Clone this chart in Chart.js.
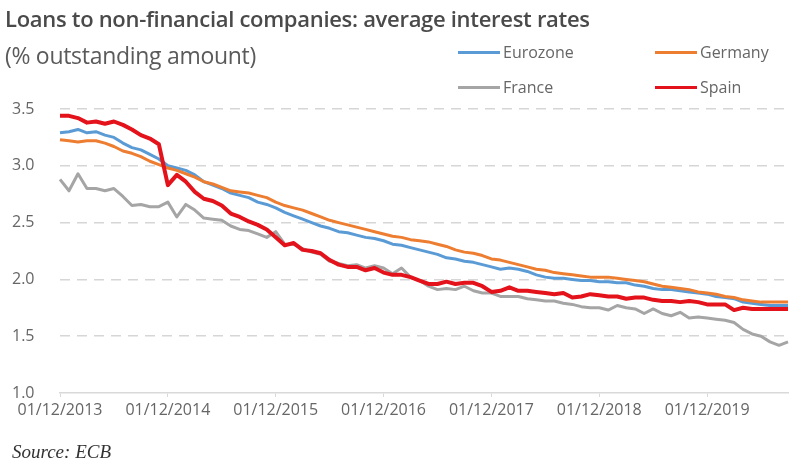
<!DOCTYPE html>
<html>
<head>
<meta charset="utf-8">
<script src="https://cdn.jsdelivr.net/npm/chart.js@4/dist/chart.umd.min.js"></script>
<style>
  html,body{margin:0;padding:0;background:#fff;}
  #wrap{position:relative;width:792px;height:465px;overflow:hidden;}
  canvas{position:absolute;left:0;top:0;}
  .t{position:absolute;white-space:nowrap;font-family:"Open Sans",sans-serif;}
  #title{left:5px;top:4px;font-size:22px;line-height:28px;font-weight:600;color:#4a4a4a;letter-spacing:-0.3px;}
  #subtitle{left:5px;top:40px;font-size:23px;line-height:30px;color:#5a5a5a;letter-spacing:-0.3px;}
  .leg{position:absolute;height:20px;}
  .leg .ln{position:absolute;left:0;top:9px;width:42px;height:3px;}
  .leg .lb{position:absolute;left:45px;top:0;font-family:"Open Sans",sans-serif;font-size:16px;line-height:20px;color:#666;white-space:nowrap;}
  #source{left:12px;top:439px;font-family:"Liberation Serif",serif;font-style:italic;font-size:19px;line-height:26px;color:#333;}
</style>
</head>
<body>
<div id="wrap">
  <canvas id="c" width="792" height="465"></canvas>
  <div class="t" id="title">Loans to non-financial companies: average interest rates</div>
  <div class="t" id="subtitle">(% outstanding amount)</div>
  <div id="legend"></div>
  <div class="t" id="source">Source: ECB</div>
</div>
<script>
// ---- Data (monthly, Dec 2013 – Sep 2020) ----
const startYear = 2013, startMonth = 12, nMonths = 82;
const categories = [];
for (let i = 0; i < nMonths; i++) {
  const m = ((startMonth - 1 + i) % 12) + 1;
  const y = startYear + Math.floor((startMonth - 1 + i) / 12);
  categories.push('01/' + String(m).padStart(2, '0') + '/' + y);
}
const tickLabels = ['01/12/2013','01/12/2014','01/12/2015','01/12/2016','01/12/2017','01/12/2018','01/12/2019'];
const yTicks = [1.0, 1.5, 2.0, 2.5, 3.0, 3.5];

const seriesNames = ['Eurozone', 'Germany', 'France', 'Spain'];

const eurozone = [
  3.29,3.30,3.32,3.29,3.30,3.27,3.25,3.20,3.16,3.14,3.10,3.06,3.00,2.98,2.96,2.92,2.86,2.83,2.80,2.76,2.74,
  2.72,2.68,2.66,2.63,2.59,2.56,2.53,2.50,2.47,2.45,2.42,2.41,2.39,2.37,2.36,2.34,2.31,2.30,2.28,2.26,
  2.24,2.22,2.19,2.18,2.16,2.15,2.13,2.11,2.09,2.10,2.09,2.07,2.04,2.02,2.01,2.01,2.00,1.99,1.99,1.98,
  1.98,1.97,1.97,1.95,1.94,1.92,1.91,1.91,1.90,1.89,1.88,1.87,1.85,1.84,1.83,1.80,1.79,1.78,1.77,1.77,1.77
];
const germany = [
  3.23,3.22,3.21,3.22,3.22,3.20,3.17,3.13,3.11,3.08,3.04,3.01,2.98,2.96,2.93,2.90,2.86,2.84,2.81,2.78,2.77,
  2.76,2.74,2.72,2.68,2.65,2.63,2.61,2.58,2.55,2.52,2.50,2.48,2.46,2.44,2.42,2.40,2.38,2.37,2.35,2.34,
  2.33,2.31,2.29,2.26,2.24,2.23,2.21,2.18,2.17,2.15,2.13,2.11,2.09,2.08,2.06,2.05,2.04,2.03,2.02,2.02,
  2.02,2.01,2.00,1.99,1.98,1.96,1.94,1.93,1.92,1.91,1.89,1.88,1.87,1.85,1.84,1.82,1.81,1.80,1.80,1.80,1.80
];
const france = [
  2.88,2.78,2.93,2.80,2.80,2.78,2.80,2.73,2.65,2.66,2.64,2.64,2.68,2.55,2.66,2.61,2.54,2.53,2.52,2.47,2.44,
  2.43,2.40,2.37,2.42,2.31,2.31,2.27,2.24,2.22,2.16,2.14,2.12,2.13,2.10,2.12,2.10,2.05,2.10,2.02,1.99,
  1.94,1.91,1.92,1.91,1.94,1.90,1.88,1.88,1.85,1.85,1.85,1.83,1.82,1.81,1.81,1.79,1.78,1.76,1.75,1.75,
  1.73,1.77,1.75,1.74,1.70,1.74,1.70,1.68,1.71,1.66,1.67,1.66,1.65,1.64,1.62,1.56,1.52,1.50,1.45,1.42,1.45
];
const spain = [
  3.44,3.44,3.42,3.38,3.39,3.37,3.39,3.36,3.32,3.27,3.24,3.19,2.83,2.92,2.86,2.77,2.71,2.69,2.65,2.58,2.55,
  2.51,2.48,2.44,2.37,2.30,2.32,2.26,2.25,2.23,2.17,2.13,2.11,2.11,2.08,2.10,2.06,2.04,2.04,2.02,1.99,
  1.96,1.96,1.98,1.96,1.97,1.97,1.94,1.89,1.90,1.93,1.90,1.90,1.89,1.88,1.87,1.88,1.84,1.85,1.87,1.86,
  1.85,1.85,1.83,1.84,1.84,1.82,1.81,1.81,1.80,1.81,1.80,1.78,1.78,1.78,1.73,1.75,1.74,1.74,1.74,1.74,1.74
];

const colors = { Eurozone: '#5b9bd5', Germany: '#ed7d31', France: '#a5a5a5', Spain: '#e3121b' };
const widths = { Eurozone: 3, Germany: 3, France: 3, Spain: 4 };
const values = { Eurozone: eurozone, Germany: germany, France: france, Spain: spain };

// legend (HTML)
const legendPos = { Eurozone: [458, 42], Germany: [655, 42], France: [458, 77], Spain: [655, 77] };
const legendEl = document.getElementById('legend');
seriesNames.forEach(n => {
  const d = document.createElement('div');
  d.className = 'leg';
  d.style.left = legendPos[n][0] + 'px';
  d.style.top = legendPos[n][1] + 'px';
  d.innerHTML = '<div class="ln" style="background:' + colors[n] + '"></div><div class="lb">' + n + '</div>';
  legendEl.appendChild(d);
});

// draw order: Spain on top, then Germany, Eurozone, France
const drawOrder = ['Spain', 'Germany', 'Eurozone', 'France'];
const datasets = drawOrder.map(n => ({
  label: n,
  data: values[n],
  borderColor: colors[n],
  backgroundColor: colors[n],
  borderWidth: widths[n],
  pointRadius: 0,
  tension: 0,
  fill: false,
  borderJoinStyle: 'round',
  borderCapStyle: 'butt'
}));

new Chart(document.getElementById('c'), {
  type: 'line',
  data: { labels: categories, datasets },
  options: {
    responsive: false,
    animation: false,
    devicePixelRatio: 1,
    layout: { padding: { left: 12, right: 1, top: 109, bottom: 42 } },
    plugins: { legend: { display: false }, tooltip: { enabled: false } },
    scales: {
      x: {
        type: 'category',
        offset: false,
        afterFit: s => { s.height = 30; },
        border: { display: true, color: '#d9d9d9', width: 1.5 },
        grid: {
          drawOnChartArea: false,
          drawTicks: true,
          tickLength: 4,
          color: ctx => (tickLabels.includes(categories[ctx.index]) ? '#d9d9d9' : 'rgba(0,0,0,0)')
        },
        ticks: {
          autoSkip: false,
          maxRotation: 0,
          minRotation: 0,
          padding: 4,
          color: '#666',
          font: { family: 'Open Sans', size: 16 },
          callback: (v, i) => (tickLabels.includes(categories[i]) ? categories[i] : '')
        }
      },
      y: {
        min: 1.0,
        max: 3.5,
        afterFit: s => { s.width = 48; },
        afterBuildTicks: s => { s.ticks = yTicks.map(v => ({ value: v })); },
        border: { display: false, dash: [10, 7] },
        grid: {
          drawTicks: false,
          lineWidth: 1.5,
          color: ctx => (ctx.tick && ctx.tick.value === 1.0 ? 'rgba(0,0,0,0)' : '#d6d6d6')
        },
        ticks: {
          crossAlign: 'far',
          padding: 0,
          color: '#666',
          font: { family: 'Open Sans', size: 16 },
          callback: v => Number(v).toFixed(1)
        }
      }
    }
  }
});
</script>
</body>
</html>
